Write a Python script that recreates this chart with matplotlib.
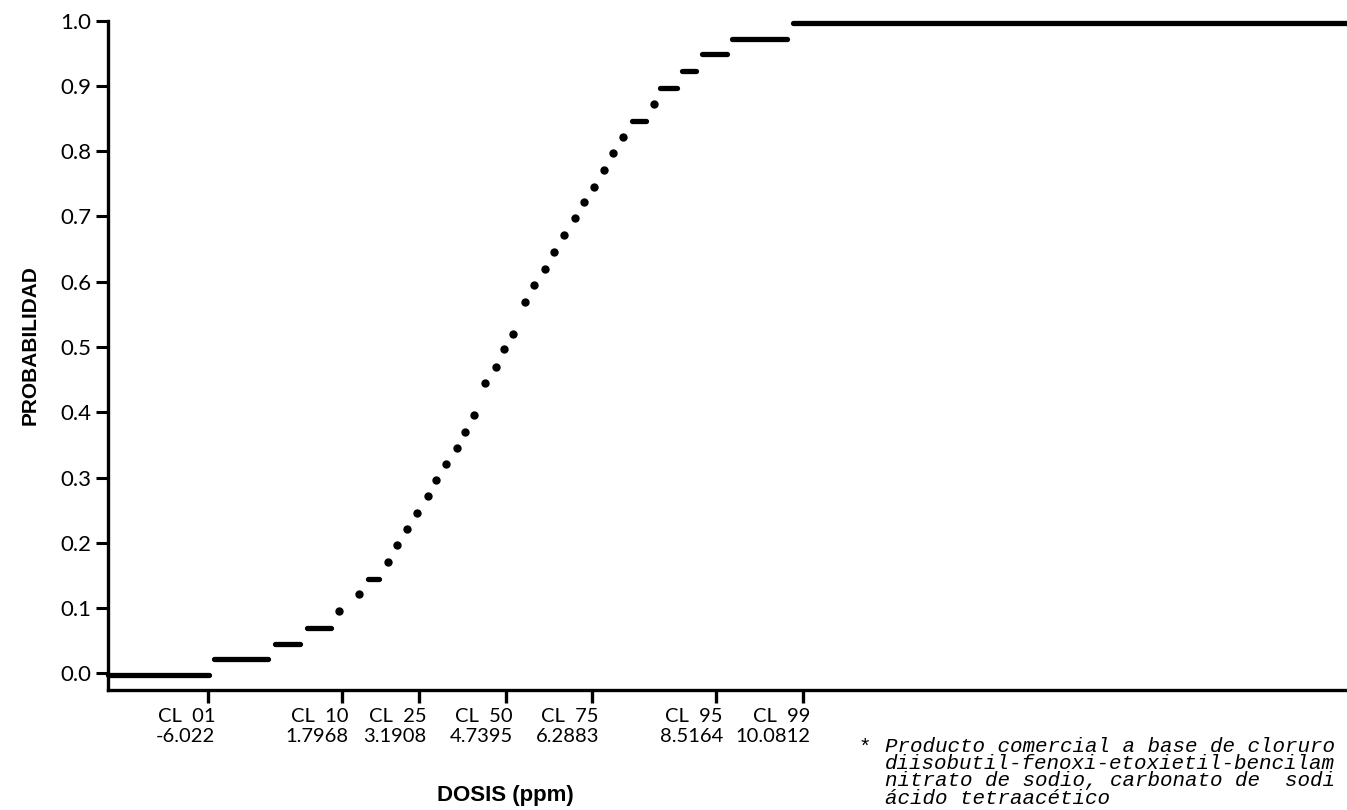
# Curva de probabilidad acumulada vs dosis (ppm)
import matplotlib
matplotlib.use("Agg")
import matplotlib.pyplot as plt
from matplotlib.transforms import ScaledTranslation

# tramos horizontales de la curva (inicio, fin, probabilidad)
tramo_x0 = [-24.0, -5.0, 5.96, 11.71, 22.67, 70.10, 75.14, 79.09, 82.68, 88.07, 99.03]
tramo_x1 = [-5.9, 4.71, 10.45, 16.02, 24.65, 72.62, 78.19, 81.60, 87.17, 97.95, 198.5]
tramo_y = [-0.003, 0.022, 0.045, 0.069, 0.145, 0.846, 0.897, 0.923, 0.949, 0.972, 0.997]

# puntos sueltos de la curva
punto_x = [17.46, 21.05, 26.26, 27.88, 29.68, 31.48, 33.45, 34.89, 36.69, 38.66,
           40.10, 41.72, 43.69, 45.67, 47.10, 48.72, 50.88, 52.49, 54.47, 56.09,
           57.88, 59.86, 61.48, 63.27, 65.07, 66.69, 68.49, 74.06]
punto_y = [0.096, 0.122, 0.171, 0.197, 0.221, 0.246, 0.272, 0.296, 0.321, 0.345,
           0.370, 0.396, 0.445, 0.469, 0.497, 0.520, 0.569, 0.595, 0.620, 0.646,
           0.672, 0.698, 0.722, 0.745, 0.771, 0.797, 0.822, 0.872]

# limites de confianza en el eje x
cl_pos = [-6.022, 17.968, 31.908, 47.395, 62.883, 85.164, 100.812]
cl_nombre = ["01", "10", "25", "50", "75", "95", "99"]
cl_texto = ["-6.022", "1.7968", "3.1908", "4.7395", "6.2883", "8.5164", "10.0812"]

y_ticks = [0.0, 0.1, 0.2, 0.3, 0.4, 0.5, 0.6, 0.7, 0.8, 0.9, 1.0]

nota = ["Producto comercial a base de cloruro",
        "diisobutil-fenoxi-etoxietil-bencilam",
        "nitrato de sodio, carbonato de  sodi",
        "ácido tetraacético"]

fig = plt.figure(figsize=(13.47, 8.10), dpi=100)
ax = fig.add_axes([108 / 1347, 1 - 690 / 810, 1 - 108 / 1347, (690 - 20.7) / 810])

# * dibujamos la curva
ax.hlines(tramo_y, tramo_x0, tramo_x1, colors="black", linewidth=3.8,
          capstyle="round", clip_on=False, zorder=3)
ax.plot(punto_x, punto_y, "o", color="black", markersize=5, clip_on=False, zorder=3)

ax.set_xlim(-24.04, 198.5)
ax.set_ylim(-0.0256, 1.0)

for lado in ["top", "right"]:
    ax.spines[lado].set_visible(False)
for lado in ["left", "bottom"]:
    ax.spines[lado].set_linewidth(2.4)

ax.set_yticks(y_ticks)
ax.set_yticklabels([f"{v:.1f}" for v in y_ticks], fontfamily="Lato", fontsize=16)
ax.tick_params(axis="y", direction="out", length=9, width=2.2, pad=3)

ax.set_xticks(cl_pos)
ax.set_xticklabels([f"CL  {n}\n{t}" for n, t in zip(cl_nombre, cl_texto)],
                   fontfamily="Lato", fontsize=14.5, linespacing=1.2,
                   ha="right", multialignment="right")
ax.tick_params(axis="x", direction="out", length=9, width=2.4, pad=4)
desplaza = ScaledTranslation(7 / 100, 0, fig.dpi_scale_trans)
for lab in ax.get_xticklabels():
    lab.set_transform(lab.get_transform() + desplaza)

fig.text(30 / 1347, 1 - 345 / 810, "PROBABILIDAD", rotation=90, ha="center",
         va="center", fontfamily="Liberation Sans", fontweight="bold", fontsize=15)
fig.text(505 / 1347, 1 - 795 / 810, "DOSIS (ppm)", ha="center", va="center",
         fontfamily="Liberation Sans", fontweight="bold", fontsize=16)

# nota al pie
fig.text(865 / 1347, 1 - 747 / 810, "*", ha="center", va="center",
         fontfamily="Liberation Mono", fontsize=15)
for i, linea in enumerate(nota):
    fig.text(885 / 1347, 1 - (746 + 17.5 * i) / 810, linea, ha="left", va="center",
             fontfamily="Liberation Mono", fontstyle="italic", fontsize=15)

fig.savefig("out.png", dpi=100)
